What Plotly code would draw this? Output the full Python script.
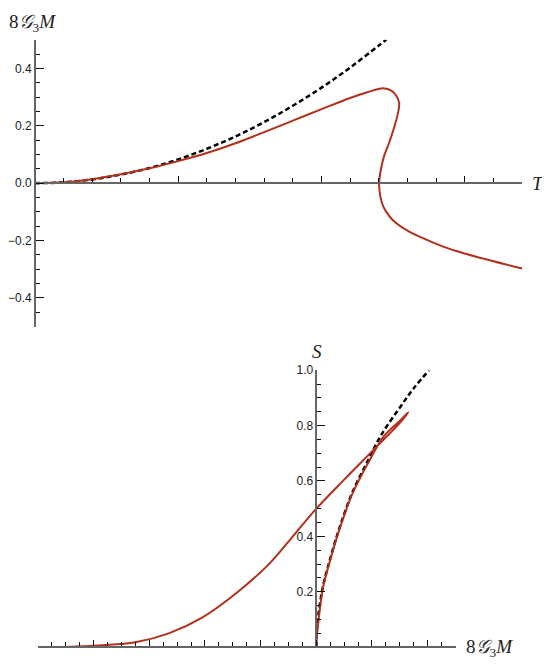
import plotly.graph_objects as go

# ---- top panel: 8G3M vs T ----
T_dash = [0, 0.1, 0.2, 0.3, 0.4, 0.5, 0.6, 0.7, 0.8, 0.9, 1.0, 1.1, 1.2, 1.226]
M_dash = [0, 0.003, 0.013, 0.03, 0.053, 0.083, 0.12, 0.163, 0.213, 0.27, 0.333, 0.403, 0.48, 0.5]

T_sol = [0, 0.1, 0.2, 0.3, 0.4, 0.5, 0.6, 0.7, 0.8, 0.9, 1.0, 1.1, 1.16, 1.215,
         1.245, 1.262, 1.271, 1.267, 1.253, 1.236, 1.219, 1.208, 1.201, 1.205, 1.215,
         1.226, 1.25, 1.306, 1.35, 1.424, 1.5, 1.6, 1.7]
M_sol = [0, 0.003, 0.014, 0.031, 0.052, 0.077, 0.105, 0.139, 0.178, 0.218, 0.258, 0.297, 0.317, 0.331,
         0.322, 0.303, 0.279, 0.245, 0.193, 0.141, 0.097, 0.052, 0, -0.045, -0.08,
         -0.1, -0.13, -0.169, -0.19, -0.221, -0.245, -0.272, -0.297]

# ---- bottom panel: S vs 8G3M ----
Mb_dash = [0, 0.002, 0.008, 0.024, 0.05, 0.075, 0.1, 0.13, 0.186, 0.232, 0.304, 0.35, 0.405]
Sb_dash = [0, 0.06, 0.12, 0.22, 0.32, 0.405, 0.48, 0.56, 0.675, 0.764, 0.871, 0.935, 1.0]

Mb_sol = [-1.0, -0.9, -0.77, -0.65, -0.53, -0.41, -0.29, -0.17, -0.09, 0, 0.1, 0.2, 0.3, 0.33,
          0.304, 0.243, 0.186, 0.13, 0.1, 0.075, 0.05, 0.024, 0.008, 0.002, 0]
Sb_sol = [0, 0.001, 0.007, 0.018, 0.05, 0.107, 0.193, 0.3, 0.393, 0.5, 0.605, 0.707, 0.81, 0.848,
          0.821, 0.762, 0.665, 0.555, 0.475, 0.40, 0.315, 0.215, 0.096, 0.04, 0]

# the page body keeps an 8px margin, so the figure is drawn 8px smaller
OFF = 8
W, H = 550 - OFF, 667 - OFF
red = '#b2301c'
axcol = '#666666'
tickfont = dict(family='Liberation Sans, Arial', size=12, color='#222222')
labfont = dict(family='Liberation Serif, Times New Roman', size=19, color='#222222')


def fx(px):
    return (px - OFF) / W


def fy(py):
    return 1 - (py - OFF) / H


dash_line = dict(color='black', width=2.5, dash='5px,3px')

fig = go.Figure()
fig.add_trace(go.Scatter(x=T_dash, y=M_dash, mode='lines', line=dash_line,
                         line_shape='spline', xaxis='x', yaxis='y'))
fig.add_trace(go.Scatter(x=T_sol, y=M_sol, mode='lines', line=dict(color=red, width=2),
                         line_shape='spline', xaxis='x', yaxis='y'))
fig.add_trace(go.Scatter(x=Mb_dash, y=Sb_dash, mode='lines', line=dash_line,
                         line_shape='spline', xaxis='x2', yaxis='y2'))
fig.add_trace(go.Scatter(x=Mb_sol, y=Sb_sol, mode='lines', line=dict(color=red, width=2),
                         line_shape='spline', xaxis='x2', yaxis='y2'))

common = dict(showgrid=False, zeroline=False, showline=True, linecolor=axcol, linewidth=1.5,
              ticks='inside', tickcolor='#111111', tickwidth=1.3, tickfont=tickfont)
minor = dict(ticks='inside', ticklen=4, tickcolor='#111111')

fig.update_layout(
    width=W, height=H,
    margin=dict(l=0, r=0, t=0, b=0),
    paper_bgcolor='white', plot_bgcolor='rgba(0,0,0,0)',
    showlegend=False,
    xaxis=dict(common, domain=[fx(32), fx(522)], range=[0, 1.7], anchor='free', position=fy(178),
               dtick=0.5, tick0=0, ticklen=6, showticklabels=False,
               minor=dict(minor, dtick=0.1)),
    yaxis=dict(common, domain=[fy(323), fy(33)], range=[-0.5, 0.5], anchor='free', position=fx(32),
               dtick=0.2, tick0=0, ticklen=8, tickformat='.1f',
               minor=dict(minor, dtick=0.05)),
    xaxis2=dict(common, domain=[fx(35), fx(455)], range=[-1.0, 0.5], anchor='free', position=fy(647),
                dtick=0.2, tick0=0, ticklen=6, showticklabels=False,
                minor=dict(minor, dtick=0.05)),
    yaxis2=dict(common, domain=[fy(647), fy(367)], range=[0, 1.0], anchor='free', position=fx(315),
                tickvals=[0.2, 0.4, 0.6, 0.8, 1.0], ticktext=['0.2', '0.4', '0.6', '0.8', '1.0'], ticklen=8,
                minor=dict(minor, dtick=0.05)),
)

mlabel = '8<i>𝒢</i><sub>3</sub><i>M</i>'
fig.add_annotation(x=fx(4), y=fy(16), xref='paper', yref='paper', text=mlabel, showarrow=False,
                   xanchor='left', yanchor='middle', font=labfont)
fig.add_annotation(x=fx(538), y=fy(178), xref='paper', yref='paper', text='<i>T</i>', showarrow=False,
                   xanchor='center', yanchor='middle', font=labfont)
fig.add_annotation(x=fx(316), y=fy(348), xref='paper', yref='paper', text='<i>S</i>', showarrow=False,
                   xanchor='center', yanchor='middle', font=labfont)
fig.add_annotation(x=fx(464), y=fy(648), xref='paper', yref='paper', text=mlabel, showarrow=False,
                   xanchor='left', yanchor='middle', font=labfont)

fig.write_html("out.html")
